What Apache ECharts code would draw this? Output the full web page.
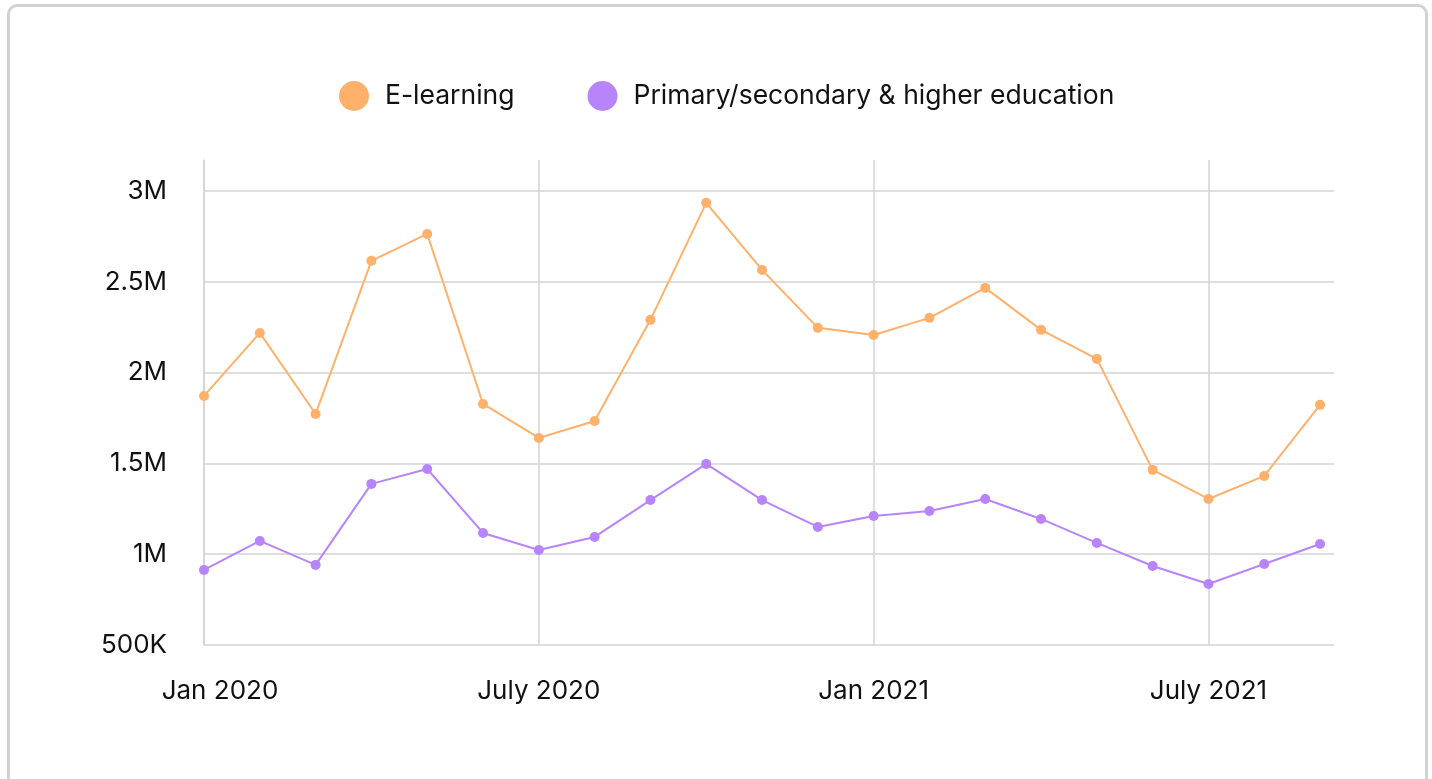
<!DOCTYPE html>
<html>
<head>
<meta charset="utf-8">
<script src="https://cdn.jsdelivr.net/npm/echarts@6/dist/echarts.min.js"></script>
<style>
  html, body { margin: 0; padding: 0; width: 1432px; height: 779px; overflow: hidden; background: #fff; }
  #card { position: absolute; left: 7px; top: 4px; width: 1421px; height: 820px; border: 3px solid #d2d2d2; border-radius: 10px; box-sizing: border-box; }
  #chart { position: absolute; left: 0; top: 0; width: 1432px; height: 779px; }
</style>
</head>
<body>
<div id="card"></div>
<div id="chart"></div>
<script>
// Month index 0 = Jan 2020 ... 20 = Sep 2021
const months = [0,1,2,3,4,5,6,7,8,9,10,11,12,13,14,15,16,17,18,19,20];
const tickLabels = { 0: 'Jan 2020', 6: 'July 2020', 12: 'Jan 2021', 18: 'July 2021' };
const seriesNames = ['E-learning', 'Primary/secondary & higher education'];
const eLearning = [1871000, 2218000, 1772000, 2615000, 2763000, 1827000, 1640000, 1733000, 2290000, 2934000, 2565000, 2246000, 2207000, 2301000, 2466000, 2235000, 2075000, 1464000, 1304000, 1431000, 1822000];
const education = [913000, 1073000, 941000, 1387000, 1469000, 1117000, 1023000, 1095000, 1298000, 1497000, 1298000, 1150000, 1210000, 1238000, 1304000, 1194000, 1062000, 935000, 836000, 946000, 1056000];

const colors = ['#FFB06A', '#B784FC'];
const FONT = 'Inter';
const FS = 26;

function fmtY(v) {
  if (v >= 1000000) return (Math.round(v / 100000) / 10) + 'M';
  return Math.round(v / 1000) + 'K';
}

const chart = echarts.init(document.getElementById('chart'));
chart.setOption({
  animation: false,
  color: colors,
  legend: {
    top: 76,
    left: 334,
    icon: 'circle',
    itemWidth: 30,
    itemHeight: 30,
    itemGap: 73,
    textStyle: { fontFamily: FONT, fontSize: 26.5, color: '#111', padding: [0, 0, 0, 11] },
    data: seriesNames
  },
  grid: { left: 204, right: 98, top: 160, bottom: 134 },
  xAxis: {
    type: 'value',
    min: 0,
    max: 20.25,
    interval: 6,
    axisLine: { show: false },
    axisTick: { show: false },
    splitLine: { show: true, showMaxLine: false, lineStyle: { color: '#d3d3d3', width: 1.5 } },
    axisLabel: {
      showMaxLabel: false,
      margin: 33,
      fontFamily: FONT,
      fontSize: FS,
      color: '#111',
      formatter: function (v) {
        const t = tickLabels[Math.round(v)] || '';
        return v === 0 ? '{first|' + t + '}' : t;
      },
      rich: { first: { fontFamily: FONT, fontSize: FS, color: '#111', padding: [0, 0, 0, 32] } }
    }
  },
  yAxis: {
    type: 'value',
    min: 500000,
    max: 3170000,
    interval: 500000,
    axisLine: { show: true, lineStyle: { color: '#d3d3d3', width: 1.5 } },
    axisTick: { show: false },
    splitLine: { show: true, showMaxLine: false, lineStyle: { color: '#d3d3d3', width: 1.5 } },
    axisLabel: {
      showMaxLabel: false,
      margin: 37,
      fontFamily: FONT,
      fontSize: FS,
      color: '#111',
      formatter: fmtY
    }
  },
  series: [
    {
      name: seriesNames[0],
      type: 'line',
      data: months.map((m, i) => [m, eLearning[i]]),
      symbol: 'circle',
      symbolSize: 10,
      lineStyle: { width: 2 },
      itemStyle: { color: colors[0] }
    },
    {
      name: seriesNames[1],
      type: 'line',
      data: months.map((m, i) => [m, education[i]]),
      symbol: 'circle',
      symbolSize: 10,
      lineStyle: { width: 2 },
      itemStyle: { color: colors[1] }
    }
  ]
});
</script>
</body>
</html>
